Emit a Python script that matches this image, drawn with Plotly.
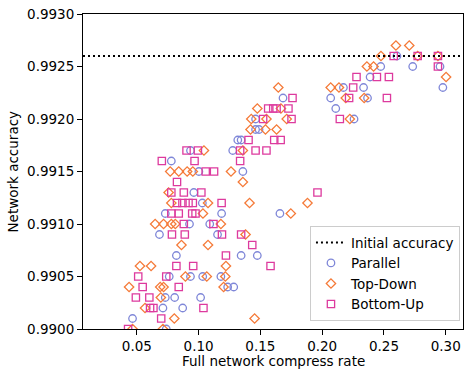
import plotly.graph_objects as go

initial_accuracy = 0.9926

parallel_x = [0.2605, 0.2474, 0.2733, 0.2954, 0.2388, 0.2172, 0.2335, 0.2977,
              0.2069, 0.2367, 0.1683, 0.2110, 0.2258, 0.1461, 0.1461, 0.1489,
              0.1317, 0.1344, 0.0934, 0.1276, 0.0779, 0.1002, 0.1358, 0.0961,
              0.103, 0.073, 0.1186, 0.1658, 0.0926, 0.109, 0.0683, 0.1153,
              0.082, 0.1344, 0.1475, 0.0762, 0.0934, 0.1033, 0.118, 0.1235,
              0.1284, 0.073, 0.0806, 0.1016, 0.0711, 0.0871, 0.0465, 0.0738]
parallel_y = [0.9926, 0.9925, 0.9925, 0.9925, 0.9924, 0.9923, 0.9923, 0.9923,
              0.9922, 0.9922, 0.9922, 0.9921, 0.9920, 0.9920, 0.9919, 0.9919,
              0.9918, 0.9918, 0.9917, 0.9917, 0.9916, 0.9915, 0.9915, 0.9913,
              0.9912, 0.9911, 0.9911, 0.9911, 0.9910, 0.9910, 0.9909, 0.9909,
              0.9907, 0.9907, 0.9907, 0.9905, 0.9905, 0.9905, 0.9905, 0.9904,
              0.9904, 0.9903, 0.9903, 0.9903, 0.9902, 0.9902, 0.9901, 0.9900]

topdown_x = [0.2597, 0.2705, 0.2476, 0.2773, 0.2937, 0.2362, 0.2416, 0.3003,
             0.2069, 0.2136, 0.1645, 0.2191, 0.2340, 0.1475, 0.1666, 0.2224,
             0.1426, 0.1549, 0.1713, 0.142, 0.1541, 0.1631, 0.1043, 0.1358,
             0.077, 0.0839, 0.0907, 0.0953, 0.1262, 0.1358, 0.0757, 0.0779,
             0.1076, 0.1412, 0.1881, 0.1035, 0.1746, 0.0648, 0.0716, 0.0779,
             0.0811, 0.118, 0.138, 0.0861, 0.1076, 0.0525, 0.0615, 0.1221,
             0.0893, 0.1066, 0.1216, 0.0437, 0.0689, 0.0716, 0.1202, 0.0694,
             0.0566, 0.0803, 0.1453, 0.0465, 0.0711]
topdown_y = [0.9927, 0.9927, 0.9926, 0.9926, 0.9926, 0.9925, 0.9925, 0.9924,
             0.9923, 0.9923, 0.9923, 0.9922, 0.9922, 0.9921, 0.9921, 0.9920,
             0.9920, 0.9920, 0.9920, 0.9919, 0.9919, 0.9919, 0.9917, 0.9917,
             0.9915, 0.9915, 0.9915, 0.9915, 0.9915, 0.9914, 0.9913, 0.9912,
             0.9912, 0.9912, 0.9912, 0.9911, 0.9911, 0.9910, 0.9910, 0.9910,
             0.9910, 0.9910, 0.9909, 0.9908, 0.9908, 0.9906, 0.9906, 0.9906,
             0.9905, 0.9905, 0.9905, 0.9904, 0.9904, 0.9904, 0.9904, 0.9903,
             0.9902, 0.9901, 0.9901, 0.9900, 0.9900]

bottomup_x = [0.2579, 0.2773, 0.2937, 0.2937, 0.2278, 0.2443, 0.2540, 0.2251,
              0.2218, 0.2524, 0.1760, 0.1563, 0.1604, 0.1631, 0.1727, 0.2143,
              0.1522, 0.1752, 0.1404, 0.1612, 0.1664, 0.0902, 0.0994, 0.1336,
              0.1461, 0.1549, 0.0702, 0.0967, 0.1336, 0.1057, 0.1125, 0.0825,
              0.0779, 0.088, 0.1022, 0.1962, 0.0825, 0.0869, 0.0918, 0.0953,
              0.1186, 0.0779, 0.0839, 0.0948, 0.0975, 0.088, 0.112, 0.0784,
              0.0888, 0.1189, 0.1344, 0.1434, 0.1221, 0.082, 0.0956, 0.1582,
              0.0511, 0.0738, 0.0547, 0.0839, 0.0492, 0.0601, 0.0607, 0.0634,
              0.1039, 0.0697, 0.0429]
bottomup_y = [0.9926, 0.9926, 0.9926, 0.9925, 0.9924, 0.9924, 0.9924, 0.9923,
              0.9922, 0.9922, 0.9922, 0.9921, 0.9921, 0.9921, 0.9921, 0.9920,
              0.9920, 0.9920, 0.9918, 0.9918, 0.9918, 0.9917, 0.9917, 0.9917,
              0.9917, 0.9917, 0.9916, 0.9916, 0.9916, 0.9915, 0.9915, 0.9914,
              0.9913, 0.9913, 0.9913, 0.9913, 0.9912, 0.9912, 0.9912, 0.9912,
              0.9912, 0.9911, 0.9911, 0.9911, 0.9911, 0.9910, 0.9910, 0.9909,
              0.9909, 0.9909, 0.9909, 0.9908, 0.9907, 0.9906, 0.9906, 0.9906,
              0.9905, 0.9905, 0.9904, 0.9904, 0.9903, 0.9903, 0.9902, 0.9902,
              0.9902, 0.9901, 0.9900]

x_ticks = [0.05, 0.10, 0.15, 0.20, 0.25, 0.30]
y_ticks = [0.9900, 0.9905, 0.9910, 0.9915, 0.9920, 0.9925, 0.9930]

FONT = "DejaVu Sans"
W, H = 466, 370
ML, MR, MT, MB = 83, 3, 14, 41

fig = go.Figure()

fig.add_shape(type="line", xref="x domain", x0=0, x1=1, yref="y",
              y0=initial_accuracy, y1=initial_accuracy,
              line=dict(color="black", width=2, dash="2px,3px"),
              showlegend=True, name="Initial accuracy", legendrank=1)

series = [
    ("Parallel", parallel_x, parallel_y, "circle-open", "#7f87d8", 7.5),
    ("Top-Down", topdown_x, topdown_y, "diamond-open", "#f57a38", 7.2),
    ("Bottom-Up", bottomup_x, bottomup_y, "square-open", "#dd3a9e", 7.3),
]
for i, (name, xs, ys, sym, col, sz) in enumerate(series):
    fig.add_trace(go.Scatter(
        x=xs, y=ys, mode="markers", name=name, legendrank=2 + i,
        marker=dict(symbol=sym, size=sz, color=col, line=dict(width=1.3, color=col)),
        cliponaxis=True,
    ))

fig.update_layout(
    width=W, height=H,
    margin=dict(l=ML, r=MR, t=MT, b=MB, autoexpand=False),
    paper_bgcolor="white", plot_bgcolor="white",
    font=dict(family=FONT, size=13.5, color="black"),
    legend=dict(x=0.992, y=0.025, xanchor="right", yanchor="bottom",
                bgcolor="rgba(255,255,255,0.85)", bordercolor="#cccccc", borderwidth=1,
                font=dict(family=FONT, size=13.5), tracegroupgap=0, itemwidth=30),
    annotations=[
        dict(text="Full network compress rate", xref="paper", yref="paper",
             x=0.5, y=-(361 - (H - MB)) / (H - MT - MB), xanchor="center", yanchor="middle",
             showarrow=False, font=dict(family=FONT, size=13.5)),
        dict(text="Network accuracy", xref="paper", yref="paper",
             x=-(ML - 12) / (W - ML - MR), y=0.5, xanchor="center", yanchor="middle",
             textangle=-90, showarrow=False, font=dict(family=FONT, size=13.5)),
    ],
)
fig.update_xaxes(
    range=[0.0064, 0.3140], tickvals=x_ticks,
    ticktext=[f"{v:.2f}" for v in x_ticks], automargin=False,
    showline=True, mirror=True, linecolor="black", linewidth=1,
    ticks="outside", ticklen=5, tickwidth=1, tickcolor="black",
    showgrid=False, zeroline=False, tickfont=dict(size=13.5),
)
fig.update_yaxes(
    range=[0.9900, 0.9930], tickvals=y_ticks,
    ticktext=[f"{v:.4f}" for v in y_ticks], automargin=False,
    showline=True, mirror=True, linecolor="black", linewidth=1,
    ticks="outside", ticklen=5, tickwidth=1, tickcolor="black",
    showgrid=False, zeroline=False, tickfont=dict(size=13.5),
)

fig.write_html("out.html", config={"displayModeBar": False},
               post_script="document.body.style.margin='0px';document.body.style.overflow='hidden';")
